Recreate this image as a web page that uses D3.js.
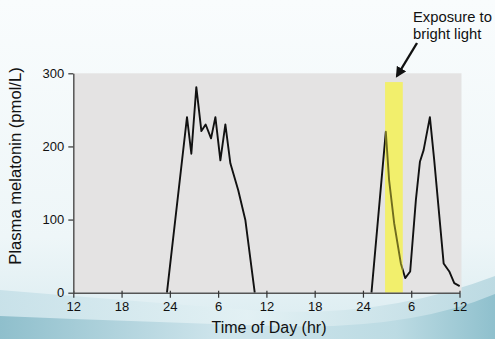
<!DOCTYPE html>
<html>
<head>
<meta charset="utf-8">
<script src="https://cdn.jsdelivr.net/npm/d3@7"></script>
<style>
  html, body { margin: 0; padding: 0; overflow: hidden; }
  svg { display: block; font-family: "Liberation Sans", Arial, sans-serif; }
</style>
</head>
<body>
<svg id="chart" width="495" height="339"></svg>
<script>
// ---- data (hours since 12:00 noon of day 1) ----
const tickHours = [0, 6, 12, 18, 24, 30, 36, 42, 48];
const tickLabels = ["12", "18", "24", "6", "12", "18", "24", "6", "12"];
const yTicks = [0, 100, 200, 300];

const night1Hours  = [11.64, 14.13, 14.67, 15.29, 15.92, 16.45, 17.12, 17.66, 18.28, 18.9, 19.52, 20.5, 21.39, 22.55];
const night1Values = [0, 240, 190, 281, 221, 230, 211, 240, 181, 230, 177, 140, 99, 0];

const night2Hours  = [37.06, 38.84, 39.25, 39.88, 40.71, 41.25, 41.87, 42.58, 43.08, 43.54, 44.32, 44.86, 46.03, 46.73, 47.35, 48.02];
const night2Values = [0, 220, 154, 95, 40, 20, 29, 127, 179, 195, 240, 181, 40, 29, 13, 9];

const lightStart = 38.75, lightEnd = 40.95, lightTop = 288;

// ---- layout ----
const W = 495, H = 339;
const svg = d3.select("#chart");

const x = d3.scaleLinear().domain([0, 48]).range([73.3, 459.5]);
const y = d3.scaleLinear().domain([0, 300]).range([292.7, 73.3]);

// background
const defs = svg.append("defs");
const bg = defs.append("linearGradient").attr("id", "bg").attr("x1", 0).attr("y1", 0).attr("x2", 0).attr("y2", 1);
bg.append("stop").attr("offset", "0%").attr("stop-color", "#f9fcfd");
bg.append("stop").attr("offset", "70%").attr("stop-color", "#eef6f8");
bg.append("stop").attr("offset", "100%").attr("stop-color", "#d9ebf0");
const sw = defs.append("linearGradient").attr("id", "swoosh").attr("x1", 0).attr("y1", 0).attr("x2", 1).attr("y2", 0);
sw.append("stop").attr("offset", "0%").attr("stop-color", "#8fbfcc");
sw.append("stop").attr("offset", "45%").attr("stop-color", "#cfe5ec");
sw.append("stop").attr("offset", "80%").attr("stop-color", "#bcdbe3");
sw.append("stop").attr("offset", "100%").attr("stop-color", "#8fc0cd");
const sw2 = defs.append("linearGradient").attr("id", "swoosh2").attr("x1", 0).attr("y1", 0).attr("x2", 1).attr("y2", 0);
sw2.append("stop").attr("offset", "0%").attr("stop-color", "#c4dfe7");
sw2.append("stop").attr("offset", "50%").attr("stop-color", "#e3f1f4");
sw2.append("stop").attr("offset", "100%").attr("stop-color", "#b5d6df");

svg.append("rect").attr("width", W).attr("height", H).attr("fill", "url(#bg)");
svg.append("path").attr("d", "M0,290 Q120,300 250,310 T495,276 L495,339 L0,339 Z").attr("fill", "url(#swoosh2)").attr("opacity", 0.85);
svg.append("path").attr("d", "M0,316 Q150,322 280,326 T495,294 L495,339 L0,339 Z").attr("fill", "url(#swoosh)");

// plot area
svg.append("rect")
  .attr("x", x(0)).attr("y", y(300))
  .attr("width", x(48) - x(0) + 2).attr("height", y(0) - y(300))
  .attr("fill", "#e4e3e3");

// lines
const line = d3.line().x(d => x(d[0])).y(d => y(d[1]));
const n1 = night1Hours.map((h, i) => [h, night1Values[i]]);
const n2 = night2Hours.map((h, i) => [h, night2Values[i]]);

const lines = svg.append("g");
[n1, n2].forEach(data => {
  lines.append("path").datum(data).attr("d", line)
    .attr("fill", "none").attr("stroke", "#111").attr("stroke-width", 1.9)
    .attr("stroke-linejoin", "round");
});

// bright light exposure bar
svg.append("rect")
  .attr("x", x(lightStart)).attr("y", y(lightTop))
  .attr("width", x(lightEnd) - x(lightStart)).attr("height", y(0) - y(lightTop))
  .attr("fill", "#f2ef6c");

defs.append("clipPath").attr("id", "lightClip").append("rect")
  .attr("x", x(lightStart)).attr("y", y(lightTop))
  .attr("width", x(lightEnd) - x(lightStart)).attr("height", y(0) - y(lightTop));
svg.append("path").datum(n2).attr("d", line)
  .attr("clip-path", "url(#lightClip)")
  .attr("fill", "none").attr("stroke", "#6f6c1e").attr("stroke-width", 1.9)
  .attr("stroke-linejoin", "round");

// axes
const xAxis = d3.axisBottom(x).tickValues(tickHours).tickFormat((d, i) => tickLabels[i]).tickSize(5).tickSizeOuter(0);
const gx = svg.append("g").attr("transform", `translate(0,${y(0)})`).call(xAxis);
gx.select(".domain").attr("stroke", "#555").attr("stroke-width", 1.5);
gx.selectAll(".tick line").attr("stroke", "#333").attr("y1", -2).attr("stroke-width", 1.2);
gx.selectAll(".tick text").attr("font-size", 13).attr("fill", "#111").attr("dy", "0.71em").attr("y", 9);

const yAxis = d3.axisLeft(y).tickValues(yTicks).tickSize(5).tickSizeOuter(0);
const gy = svg.append("g").attr("transform", `translate(${x(0)},0)`).call(yAxis);
gy.select(".domain").attr("stroke", "#555").attr("stroke-width", 1.5);
gy.selectAll(".tick line").attr("stroke", "#333").attr("stroke-width", 1.2);
gy.selectAll(".tick text").attr("font-size", 13).attr("fill", "#111").attr("x", -9);

// axis titles
svg.append("text").attr("x", 269).attr("y", 333).attr("text-anchor", "middle")
  .attr("font-size", 16).attr("fill", "#111").text("Time of Day (hr)");
svg.append("text").attr("transform", "translate(21,166) rotate(-90)").attr("text-anchor", "middle")
  .attr("font-size", 16.6).attr("fill", "#111").text("Plasma melatonin (pmol/L)");

// annotation
defs.append("marker").attr("id", "arrow").attr("viewBox", "0 0 10 10")
  .attr("refX", 8).attr("refY", 5).attr("markerWidth", 4.5).attr("markerHeight", 4.5)
  .attr("orient", "auto")
  .append("path").attr("d", "M0,0 L10,5 L0,10 Z").attr("fill", "#111");
svg.append("line").attr("x1", 417).attr("y1", 43).attr("x2", 397).attr("y2", 76)
  .attr("stroke", "#111").attr("stroke-width", 2.4).attr("marker-end", "url(#arrow)");
svg.append("text").attr("x", 413).attr("y", 22).attr("font-size", 14.8).attr("fill", "#111").text("Exposure to");
svg.append("text").attr("x", 413).attr("y", 38.5).attr("font-size", 14.8).attr("fill", "#111").text("bright light");
</script>
</body>
</html>
